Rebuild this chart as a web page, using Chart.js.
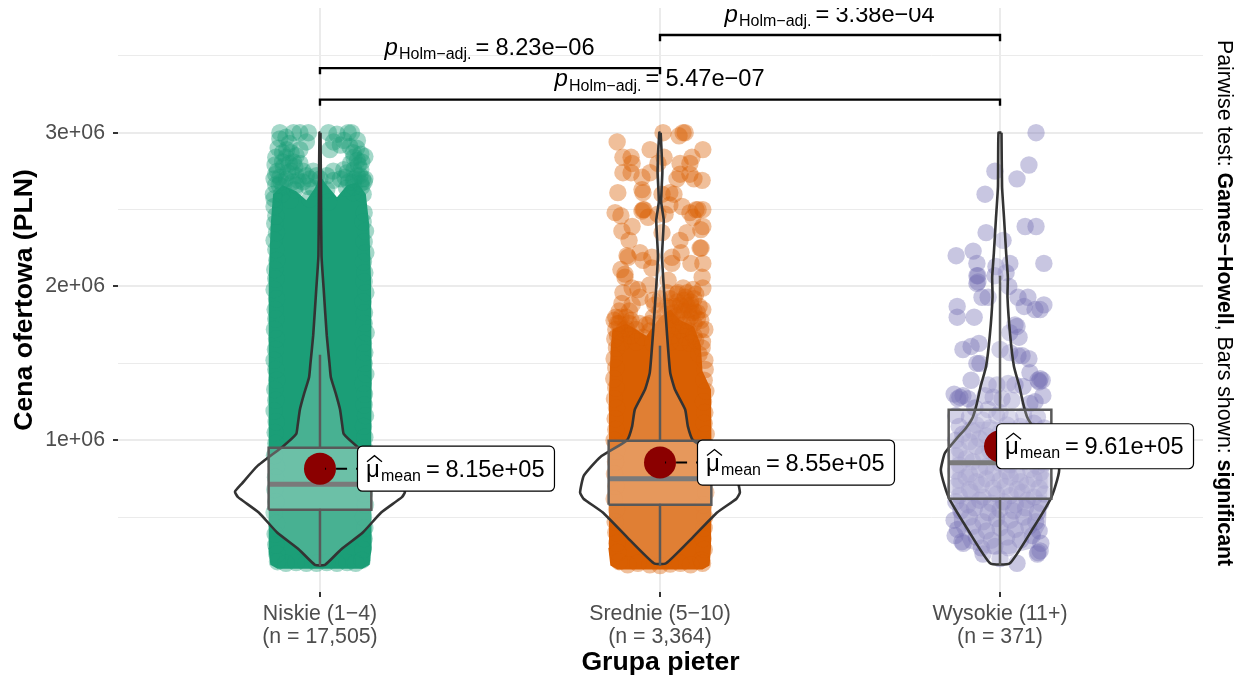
<!DOCTYPE html>
<html>
<head>
<meta charset="utf-8">
<style>
  html, body { margin: 0; padding: 0; background: #fff; }
  canvas { display: block; }
</style>
<script src="https://cdn.jsdelivr.net/npm/chart.js@4"></script>
</head>
<body>
<canvas id="chart" width="1239" height="676"></canvas>
<script>
// all prices in millions of PLN, jitter as offset from the category position
const categories = [['Niskie (1\u22124)', '(n = 17,505)'], ['Srednie (5\u221210)', '(n = 3,364)'], ['Wysokie (11+)', '(n = 371)']];
const categoryPos = [1, 2, 3];
const yTickValues = [0.5, 1, 1.5, 2, 2.5, 3, 3.5];
const yTickLabels = ['', '1e+06', '', '2e+06', '', '3e+06', ''];
const colors = ['#1B9E77', '#D95F02', 'rgba(117,112,179,0.35)'];
const pointColors = ['rgba(27,158,119,0.4)', 'rgba(217,95,2,0.4)', 'rgba(117,112,179,0.4)'];

const means = [0.815, 0.855, 0.961];
const meanLabels = ['8.15e+05', '8.55e+05', '9.61e+05'];
const meanLabelGap = [37, 37, -4];

// q1, median, q3, lower whisker, upper whisker
const boxNiskie = [0.548, 0.713, 0.951, 0.19, 1.556];
const boxSrednie = [0.58, 0.75, 0.997, 0.19, 1.615];
const boxWysokie = [0.62, 0.854, 1.199, 0.19, 2.07];
const boxHalfWidth = 0.151;

// violins: [price, half width]
const violinNiskie = [[3,.0015],[2.6,.003],[2.2,.0045],[1.98,.011],[1.68,.02],[1.5,.028],[1.41,.032],[1.3,.047],[1.2,.059],[1.09,.066],[1.04,.07],[.96,.109],[.83,.185],[.72,.229],[.665,.25],[.63,.241],[.53,.18],[.4,.126],[.29,.062],[.19,.015]];
const violinSrednie = [[3,.002],[2.75,.007],[2.55,.0035],[2.43,.011],[2.2,.006],[2,.011],[1.68,.021],[1.44,.03],[1.33,.044],[1.2,.074],[1.09,.082],[1,.097],[.89,.176],[.77,.224],[.66,.235],[.62,.225],[.53,.168],[.37,.097],[.2,.018]];
const violinWysokie = [[3,.0044],[2.65,.006],[2.44,.012],[2.22,.018],[2.06,.023],[1.93,.022],[1.68,.03],[1.48,.041],[1.35,.057],[1.24,.068],[1.15,.08],[1.08,.1],[1.02,.124],[.917,.162],[.807,.174],[.696,.162],[.61,.147],[.416,.094],[.2,.029]];

// outline of the part where the points merge into a solid mass
const massNiskie = [[-.125,.165],[-.146,.19],[-.152,.3],[-.15,.9],[-.152,1.5],[-.15,2.05],[-.145,2.4],[-.138,2.6],[-.11,2.66],[-.07,2.62],[-.04,2.56],[-.015,2.64],[0,2.72],[.02,2.66],[.05,2.58],[.08,2.66],[.11,2.68],[.135,2.6],[.145,2.4],[.15,2.05],[.152,1.4],[.15,.8],[.152,.3],[.146,.19],[.125,.165]];
const massSrednie = [[-.125,.16],[-.146,.185],[-.152,.3],[-.15,.9],[-.15,1.3],[-.145,1.6],[-.14,1.72],[-.1,1.76],[-.07,1.72],[-.04,1.68],[0,1.8],[.03,1.85],[.06,1.78],[.1,1.74],[.12,1.62],[.125,1.45],[.15,1.33],[.152,.8],[.15,.3],[.146,.185],[.125,.16]];
const massWysokie = [[-.03,.26],[-.1,.3],[-.135,.45],[-.14,.7],[-.14,1],[-.1,1.12],[.1,1.12],[.14,1],[.14,.7],[.135,.45],[.1,.3],[.03,.26]];

const niskiePts = [
  [-.118,3],[-.118,2.96],[-.078,3],[-.059,3],[-.034,3],[.025,3],[.05,2.99],[.083,3],[.093,3],
  [-.123,2.9],[-.098,2.89],[-.059,2.89],[.029,2.89],[.088,2.91],[.108,2.9],[.132,2.845],[.098,2.87],
  [-.132,2.79],[-.108,2.78],[-.078,2.81],[-.074,2.78],[-.059,2.8],[.113,2.79],[.123,2.81],[.039,2.75],
  [-.118,2.71],[-.064,2.69],[-.02,2.75],[.074,2.71],[.118,2.72],[.132,2.7],[.04,2.69],[.098,2.68],
  [-.108,2.65],[-.137,2.6],[-.113,2.6],[-.074,2.63],[-.034,2.65],[.02,2.63],[.078,2.64],[.123,2.65],[.127,2.6],[.098,2.61],[-.03,2.57],[-.088,2.56],[.025,2.55],
  [-.13,2.84],[-.1,2.84],[-.085,2.75],[-.05,2.75],[-.135,2.7],[-.1,2.7],[-.03,2.7],[.07,2.76],[.1,2.76],[.12,2.76],[.09,2.8],[.12,2.86],[.06,2.92],[.04,2.94],[-.1,2.97],[-.04,2.94],[-.09,2.93],[.07,2.95],[.11,2.95],[-.12,2.66],[-.07,2.66],[-.02,2.64],[.1,2.65],[.13,2.68],[-.135,2.57],[0,2.7],
  [-.125,2.75],[-.095,2.74],[-.07,2.72],[-.04,2.72],[-.11,2.81],[-.09,2.8],[-.13,2.73],[.08,2.74],[.11,2.72],[.125,2.7],[.1,2.7],[.06,2.7],[.02,2.72],[-.01,2.72],[.12,2.67],[.085,2.68],[-.115,2.68],[-.08,2.68],[-.05,2.68],[-.13,2.66],[.1,2.84],[.11,2.82],[-.07,2.85],[-.085,2.87],[-.11,2.87],
  [-.135,2.52],[-.13,2.46],[-.133,2.41],[-.128,2.35],[-.135,2.3],[-.13,2.24],[-.127,2.17],[-.133,2.11],[-.13,2.05],[-.135,1.98],[-.128,1.92],[-.132,1.85],[-.13,1.79],[-.134,1.72],[-.128,1.66],[-.131,1.59],[-.135,1.52],[-.13,1.46],[-.127,1.39],[-.133,1.33],[-.13,1.26],[-.135,1.19],[-.129,1.12],[-.132,1.05],[-.13,.98],[-.134,.9],[-.128,.83],[-.131,.76],[-.133,.68],[-.13,.6],[-.135,.53],[-.128,.46],[-.132,.39],[-.13,.32],[-.127,.26],[-.125,.21],
  [.13,2.48],[.127,2.42],[.134,2.36],[.13,2.29],[.135,2.22],[.128,2.16],[.132,2.09],[.13,2.03],[.135,1.96],[.127,1.9],[.131,1.83],[.13,1.76],[.136,1.7],[.128,1.63],[.132,1.57],[.13,1.5],[.135,1.43],[.127,1.37],[.131,1.3],[.13,1.23],[.134,1.16],[.128,1.09],[.132,1.02],[.13,.95],[.135,.88],[.127,.8],[.131,.73],[.13,.65],[.134,.58],[.128,.5],[.132,.43],[.13,.36],[.127,.29],[.124,.22],
  [-.1,.2],[-.07,.205],[-.04,.2],[-.01,.2],[.02,.205],[.05,.2],[.08,.205],[.105,.2]
];

const sredniePts = [
  [-.126,2.94],[.009,3],[.056,2.98],[.068,3],[.074,3],[-.029,2.89],[-.109,2.84],[-.085,2.84],[-.082,2.8],[-.109,2.74],[-.085,2.74],[-.006,2.8],[.012,2.84],[-.029,2.74],[-.053,2.71],[.059,2.8],[.094,2.84],[.126,2.89],[.088,2.8],[.05,2.7],[.059,2.73],[.088,2.73],[.1,2.7],[.124,2.69],
  [-.124,2.61],[-.053,2.63],[-.05,2.61],[.006,2.6],[.029,2.61],[.041,2.6],[-.132,2.48],[-.115,2.46],[-.082,2.39],[-.05,2.5],[-.047,2.5],[-.053,2.49],[-.035,2.45],[-.006,2.47],[.015,2.47],[.029,2.53],[.065,2.52],[.088,2.48],[.106,2.5],[.112,2.5],[.126,2.5],[.097,2.45],[.126,2.39],[.12,2.37],[-.112,2.36],[.006,2.35],[-.091,2.3],[.079,2.35],[.059,2.3],
  [.121,2.25],[.118,2.25],[.062,2.22],[-.097,2.2],[-.094,2.19],[-.059,2.22],[-.05,2.17],[-.024,2.19],[-.024,2.12],[.035,2.19],[.035,2.15],[.091,2.15],[.126,2.15],[-.115,2.11],[-.103,2.08],
  [-.103,2.06],[-.109,1.96],[-.082,1.99],[-.065,1.98],[-.059,1.93],[-.03,2.01],[.024,2.04],[.124,2.06],[.126,1.99],[.068,1.99],[.097,1.98],[.053,1.96],[-.112,1.89],[-.082,1.88],[.044,1.87],[.079,1.88],[.126,1.85],[.094,1.83],[.132,1.72],[.124,1.6],[.132,1.52],[.105,1.65],[.115,1.56],
  [.02,1.96],[.05,1.95],[.08,1.96],[.105,1.95],[0,1.92],[.03,1.92],[.07,1.91],[.1,1.92],[-.02,1.91],
  [-.015,1.88],[.02,1.87],[.06,1.88],[.09,1.88],[.115,1.87],
  [-.12,1.84],[-.09,1.84],[0,1.84],[.04,1.83],[.07,1.84],[.1,1.84],
  [-.13,1.8],[-.1,1.8],[-.02,1.8],[.03,1.79],[.06,1.8],[.09,1.8],[.11,1.79],
  [-.12,1.76],[-.09,1.76],[-.04,1.75],[0,1.76],[.04,1.76],[.07,1.75],[.1,1.76],
  [.075,1.93],[.09,1.9],[.05,1.9],[.03,1.86],[.065,1.85],[.085,1.85],[.11,1.83],[.05,1.81],[.08,1.78],[.12,1.78],[-.115,1.8],[-.085,1.78],[-.125,1.76],[-.1,1.73],[-.06,1.76],[-.03,1.76],[.015,1.82],
  [-.105,1.72],[-.07,1.72],[-.03,1.71],[.02,1.72],[.06,1.72],[.085,1.71],[.12,1.72],
  [-.125,1.68],[-.085,1.68],[-.05,1.67],[-.01,1.68],[.035,1.68],[.075,1.67],[.1,1.68],
  [-.11,1.64],[-.07,1.64],[-.02,1.63],[.03,1.64],[.06,1.64],[.09,1.63],[.125,1.64],
  [-.135,1.78],[-.13,1.72],[-.133,1.66],[-.128,1.6],[-.135,1.53],[-.13,1.47],[-.136,1.4],[-.13,1.34],[-.134,1.27],[-.128,1.21],[-.132,1.14],[-.13,1.07],[-.135,1],[-.128,.93],[-.131,.86],[-.134,.78],[-.13,.7],[-.135,.62],[-.128,.55],[-.132,.47],[-.13,.4],[-.127,.33],[-.124,.27],[-.12,.21],
  [.133,1.46],[.13,1.39],[.135,1.32],[.128,1.25],[.132,1.18],[.13,1.11],[.136,1.04],[.128,.97],[.131,.9],[.134,.82],[.13,.74],[.135,.66],[.128,.58],[.132,.5],[.13,.43],[.127,.36],[.13,.29],[.122,.22],
  [-.095,.19],[-.065,.2],[-.03,.19],[0,.185],[.03,.195],[.06,.2],[.09,.19],[.125,.2]
];

const wysokiePts = [
  [.106,3],[-.015,2.75],[.085,2.79],[.05,2.7],[-.044,2.6],[.074,2.39],[.106,2.39],[-.041,2.35],[.009,2.3],[-.129,2.2],[-.079,2.23],[-.068,2.15],[-.012,2.13],[.029,2.15],[.129,2.15],[-.065,2.07],[-.068,2.02],[-.015,2.07],[.018,2.09],
  [-.065,2.03],[-.068,2.07],[-.053,1.93],[-.035,1.93],[.026,2],[.053,1.93],[.082,1.93],[.071,1.87],[.103,1.85],[.118,1.85],[.129,1.88],[-.126,1.87],[-.126,1.8],[-.076,1.8],[.044,1.75],[.05,1.74],[.029,1.7],[.056,1.67],[-.109,1.59],[-.085,1.61],[-.062,1.63],[-.068,1.5],[-.059,1.5],[0,1.59],[.029,1.57],[.053,1.55],[.065,1.55],[.085,1.53],[-.085,1.39],[.088,1.44],[.118,1.4],[.112,1.39],[.124,1.39],[.126,1.29],[.103,1.25],[-.135,1.3],[-.118,1.28],[-.109,1.29],[-.124,1.27],[-.094,1.27],[-.035,1.36],[-.009,1.36],[-.044,1.29],[-.02,1.28],[.024,1.37],[.044,1.36],[.068,1.35],[.006,1.27],[.035,1.26],[-.074,1.21],[-.035,1.2],[0,1.18],[.088,1.24],[.115,1.38],
  [-.13,1.16],[-.09,1.15],[-.05,1.13],[-.01,1.16],[.03,1.14],[.07,1.16],[.11,1.15],
  [-.12,1.09],[-.07,1.1],[-.03,1.08],[.02,1.1],[.06,1.09],[.1,1.11],[.13,1.08],
  [-.11,1.04],[-.08,1.06],[-.04,1.03],[0,1.05],[.05,1.04],[.09,1.06],[.12,1.03],
  [-.13,1],[-.09,.99],[-.06,1.01],[-.02,.98],[.03,1],[.07,.99],[.11,1.01],
  [-.12,.94],[-.07,.96],[-.03,.93],[.01,.95],[.06,.94],[.1,.96],[.13,.95],
  [-.13,.9],[-.1,.88],[-.05,.91],[-.01,.89],[.04,.9],[.08,.88],[.12,.91],
  [-.12,.84],[-.08,.86],[-.04,.83],[0,.85],[.03,.84],[.07,.86],[.11,.83],[.13,.85],
  [-.13,.8],[-.09,.78],[-.06,.81],[-.02,.79],[.02,.8],[.05,.78],[.09,.81],[.12,.79],
  [-.12,.74],[-.1,.76],[-.07,.73],[-.04,.75],[0,.74],[.03,.76],[.06,.73],[.1,.75],[.13,.74],
  [-.13,.7],[-.09,.68],[-.055,.71],[-.02,.69],[.015,.7],[.05,.68],[.08,.71],[.115,.69],
  [-.12,.64],[-.085,.66],[-.05,.63],[-.01,.65],[.03,.64],[.065,.66],[.1,.63],[.13,.65],
  [-.13,.6],[-.095,.58],[-.06,.61],[-.025,.59],[.01,.6],[.045,.58],[.08,.61],[.12,.59],
  [-.115,.54],[-.075,.56],[-.035,.53],[0,.55],[.04,.54],[.075,.56],[.11,.53],
  [-.135,.48],[-.09,.5],[-.05,.47],[-.01,.49],[.03,.48],[.07,.5],[.105,.47],
  [-.125,.42],[-.08,.44],[-.04,.41],[0,.43],[.045,.42],[.085,.44],[.115,.41],
  [-.132,.38],[-.112,.34],[-.108,.33],[-.07,.37],[-.025,.35],[.02,.37],[.06,.35],[.095,.38],[.12,.33],
  [-.055,.3],[-.015,.31],[.025,.3],[.112,.27],[.11,.26],[.118,.28],[-.05,.26],[0,.23],[.05,.2]
];

// significance brackets
const bracketFrom = [1, 2, 1];
const bracketTo = [2, 3, 3];
const bracketCena = [3.42, 3.635, 3.215];
const bracketLabels = ['8.23e\u221206', '3.38e\u221204', '5.47e\u221207'];
const bracketTip = 0.04;

const FONT = "'Liberation Sans'";

function line(points, color, width, order, extra) {
  return Object.assign({
    type: 'scatter', data: points, showLine: true, pointRadius: 0, pointHoverRadius: 0,
    borderColor: color, borderWidth: width, backgroundColor: 'transparent', order: order, tension: 0,
    borderJoinStyle: 'round', borderCapStyle: 'butt'
  }, extra || {});
}

function dots(points, color, radius, order) {
  return {
    type: 'scatter', data: points, pointRadius: radius, pointHoverRadius: radius,
    pointBorderWidth: 0, borderWidth: 0, pointBorderColor: 'transparent', borderColor: 'transparent',
    pointBackgroundColor: color, backgroundColor: color, order: order
  };
}

const datasets = [];

// solid masses, then the single points
[massNiskie, massSrednie, massWysokie].forEach((mass, i) => {
  const pts = mass.map(p => ({x: categoryPos[i] + p[0], y: p[1]}));
  datasets.push(line(pts, 'transparent', 0, 20, {shapeFill: colors[i]}));
});
[niskiePts, sredniePts, wysokiePts].forEach((list, i) => {
  datasets.push(dots(list.map(p => ({x: categoryPos[i] + p[0], y: p[1]})), pointColors[i], 8.7, 19));
});

// violins
[violinNiskie, violinSrednie, violinWysokie].forEach((rows, i) => {
  const c = categoryPos[i];
  const pts = rows.map(r => ({x: c + r[1], y: r[0]}))
    .concat(rows.slice().reverse().map(r => ({x: c - r[1], y: r[0]})));
  pts.push(pts[0]);
  datasets.push(line(pts, '#333333', 2.6, 15, {shapeFill: 'rgba(255,255,255,0.2)', tension: 0.15}));
});

// boxes
[boxNiskie, boxSrednie, boxWysokie].forEach((b, i) => {
  const c = categoryPos[i], w = boxHalfWidth;
  const rect = [{x: c - w, y: b[0]}, {x: c + w, y: b[0]}, {x: c + w, y: b[2]}, {x: c - w, y: b[2]}, {x: c - w, y: b[0]}];
  datasets.push(line(rect, '#595959', 2.5, 10, {shapeFill: 'rgba(255,255,255,0.2)', borderJoinStyle: 'miter'}));
  datasets.push(line([{x: c - w, y: b[1]}, {x: c + w, y: b[1]}], '#595959', 5, 10));
  datasets.push(line([{x: c, y: b[0]}, {x: c, y: b[3]}], '#595959', 2.5, 10));
  datasets.push(line([{x: c, y: b[2]}, {x: c, y: b[4]}], '#595959', 2.5, 10));
});

// mean dots and the dashed stub towards their labels
means.forEach((m, i) => {
  datasets.push(dots([{x: categoryPos[i], y: m}], '#8B0000', 16, 5));
  if (meanLabelGap[i] > 0) {
    datasets.push(line([{x: categoryPos[i] + 0.015, y: m}, {x: categoryPos[i] + 0.109, y: m}], '#000', 2, 4, {borderDash: [1, 10, 11, 9]}));
  }
});

// brackets
bracketCena.forEach((y, i) => {
  const pts = [{x: bracketFrom[i], y: y - bracketTip}, {x: bracketFrom[i], y: y}, {x: bracketTo[i], y: y}, {x: bracketTo[i], y: y - bracketTip}];
  datasets.push(line(pts, '#000', 2.4, 3, {borderJoinStyle: 'miter'}));
});

// fills a closed line dataset (fill:'shape' gets clipped on paths that return to the same x)
const shapeFill = {
  id: 'shapeFill',
  beforeDatasetDraw(chart, args) {
    const ds = chart.data.datasets[args.index];
    if (!ds.shapeFill) return;
    const ctx = chart.ctx;
    ctx.save();
    ctx.fillStyle = ds.shapeFill;
    ctx.beginPath();
    args.meta.dataset.path(ctx);
    ctx.closePath();
    ctx.fill();
    ctx.restore();
  }
};

function roundRect(ctx, x, y, w, h, r) {
  ctx.beginPath();
  ctx.moveTo(x + r, y);
  ctx.arcTo(x + w, y, x + w, y + h, r);
  ctx.arcTo(x + w, y + h, x, y + h, r);
  ctx.arcTo(x, y + h, x, y, r);
  ctx.arcTo(x, y, x + w, y, r);
  ctx.closePath();
}

const annotations = {
  id: 'annotations',
  afterDatasetsDraw(chart) {
    const {ctx, scales: {x, y}, chartArea} = chart;
    ctx.save();
    ctx.fillStyle = '#000';
    ctx.textBaseline = 'alphabetic';
    ctx.textAlign = 'left';

    // bracket labels, cut off by the top of the panel like the original
    ctx.save();
    ctx.beginPath();
    ctx.rect(0, chartArea.top, 1239, 676);
    ctx.clip();
    bracketCena.forEach((v, i) => {
      const start = x.getPixelForValue((bracketFrom[i] + bracketTo[i]) / 2) - 105.5;
      const base = y.getPixelForValue(v) - 13.5;
      ctx.font = "italic 24px " + FONT;
      ctx.fillText('p', start, base);
      ctx.font = "16px " + FONT;
      ctx.fillText('Holm\u2212adj.', start + 14.5, base + 4.5);
      ctx.font = "23.6px " + FONT;
      ctx.fillText('=', start + 91, base);
      ctx.fillText(bracketLabels[i], start + 111, base);
    });
    ctx.restore();

    // mean labels
    means.forEach((m, i) => {
      const left = x.getPixelForValue(categoryPos[i]) + meanLabelGap[i];
      const mid = y.getPixelForValue(m);
      roundRect(ctx, left + 0.5, mid - 22.5, 197, 45, 5);
      ctx.fillStyle = '#fff';
      ctx.fill();
      ctx.strokeStyle = '#000';
      ctx.lineWidth = 1.2;
      ctx.stroke();
      ctx.fillStyle = '#000';
      ctx.font = "24px " + FONT;
      ctx.fillText('\u03BC', left + 9, mid + 8);
      ctx.beginPath();
      ctx.moveTo(left + 10, mid - 7);
      ctx.lineTo(left + 17.5, mid - 13);
      ctx.lineTo(left + 25, mid - 7);
      ctx.lineWidth = 1.3;
      ctx.stroke();
      ctx.font = "16px " + FONT;
      ctx.fillText('mean', left + 24, mid + 12);
      ctx.font = "23.6px " + FONT;
      ctx.fillText('=', left + 69, mid + 8);
      ctx.fillText(meanLabels[i], left + 88.5, mid + 8);
    });

    // caption on the right, reads top to bottom
    ctx.translate(1218, 40);
    ctx.rotate(Math.PI / 2);
    let pos = 0;
    [['Pairwise test: ', false], ['Games\u2212Howell', true], [', Bars shown: ', false], ['significant', true]].forEach(r => {
      ctx.font = (r[1] ? 'bold ' : '') + '21.3px ' + FONT;
      ctx.fillText(r[0], pos, 0);
      pos += ctx.measureText(r[0]).width;
    });
    ctx.restore();
  }
};

new Chart(document.getElementById('chart'), {
  type: 'scatter',
  data: {datasets: datasets},
  plugins: [shapeFill, annotations],
  options: {
    responsive: false,
    animation: false,
    events: [],
    layout: {autoPadding: false, padding: {top: 8, right: 36, left: 0, bottom: 0}},
    plugins: {legend: {display: false}, tooltip: {enabled: false}},
    scales: {
      x: {
        type: 'linear', min: 0.406, max: 3.597,
        afterFit(s) { s.height = 84; s.paddingLeft = 0; s.paddingRight = 0; },
        afterBuildTicks(s) { s.ticks = categoryPos.map(v => ({value: v})); },
        border: {display: false},
        grid: {color: '#EBEBEB', lineWidth: 2, tickColor: '#333333', tickWidth: 2, tickLength: 5},
        ticks: {
          autoSkip: false, maxRotation: 0, color: '#4D4D4D', padding: 6,
          font: {family: FONT, size: 21.3, lineHeight: 1.08},
          callback: v => categories[categoryPos.indexOf(v)]
        },
        title: {
          display: true, text: 'Grupa pieter', color: '#000', padding: 0,
          font: {family: FONT, size: 26.6, weight: 'bold', lineHeight: 1}
        }
      },
      y: {
        type: 'linear', min: 0.013, max: 3.811,
        afterFit(s) { s.width = 118; s.paddingTop = 0; s.paddingBottom = 0; },
        afterBuildTicks(s) { s.ticks = yTickValues.map(v => ({value: v})); },
        border: {display: false},
        grid: {
          color: '#EBEBEB', tickLength: 5, tickWidth: 2,
          lineWidth: c => (c.tick && Number.isInteger(c.tick.value)) ? 2 : 1,
          tickColor: c => (c.tick && Number.isInteger(c.tick.value)) ? '#333333' : 'transparent'
        },
        ticks: {
          autoSkip: false, color: '#4D4D4D', padding: 8,
          font: {family: FONT, size: 21.3},
          callback: v => yTickLabels[yTickValues.indexOf(v)]
        },
        title: {
          display: true, text: 'Cena ofertowa (PLN)', color: '#000', padding: {top: 11, bottom: 0},
          font: {family: FONT, size: 26.6, weight: 'bold', lineHeight: 1}
        }
      }
    }
  }
});
</script>
</body>
</html>
